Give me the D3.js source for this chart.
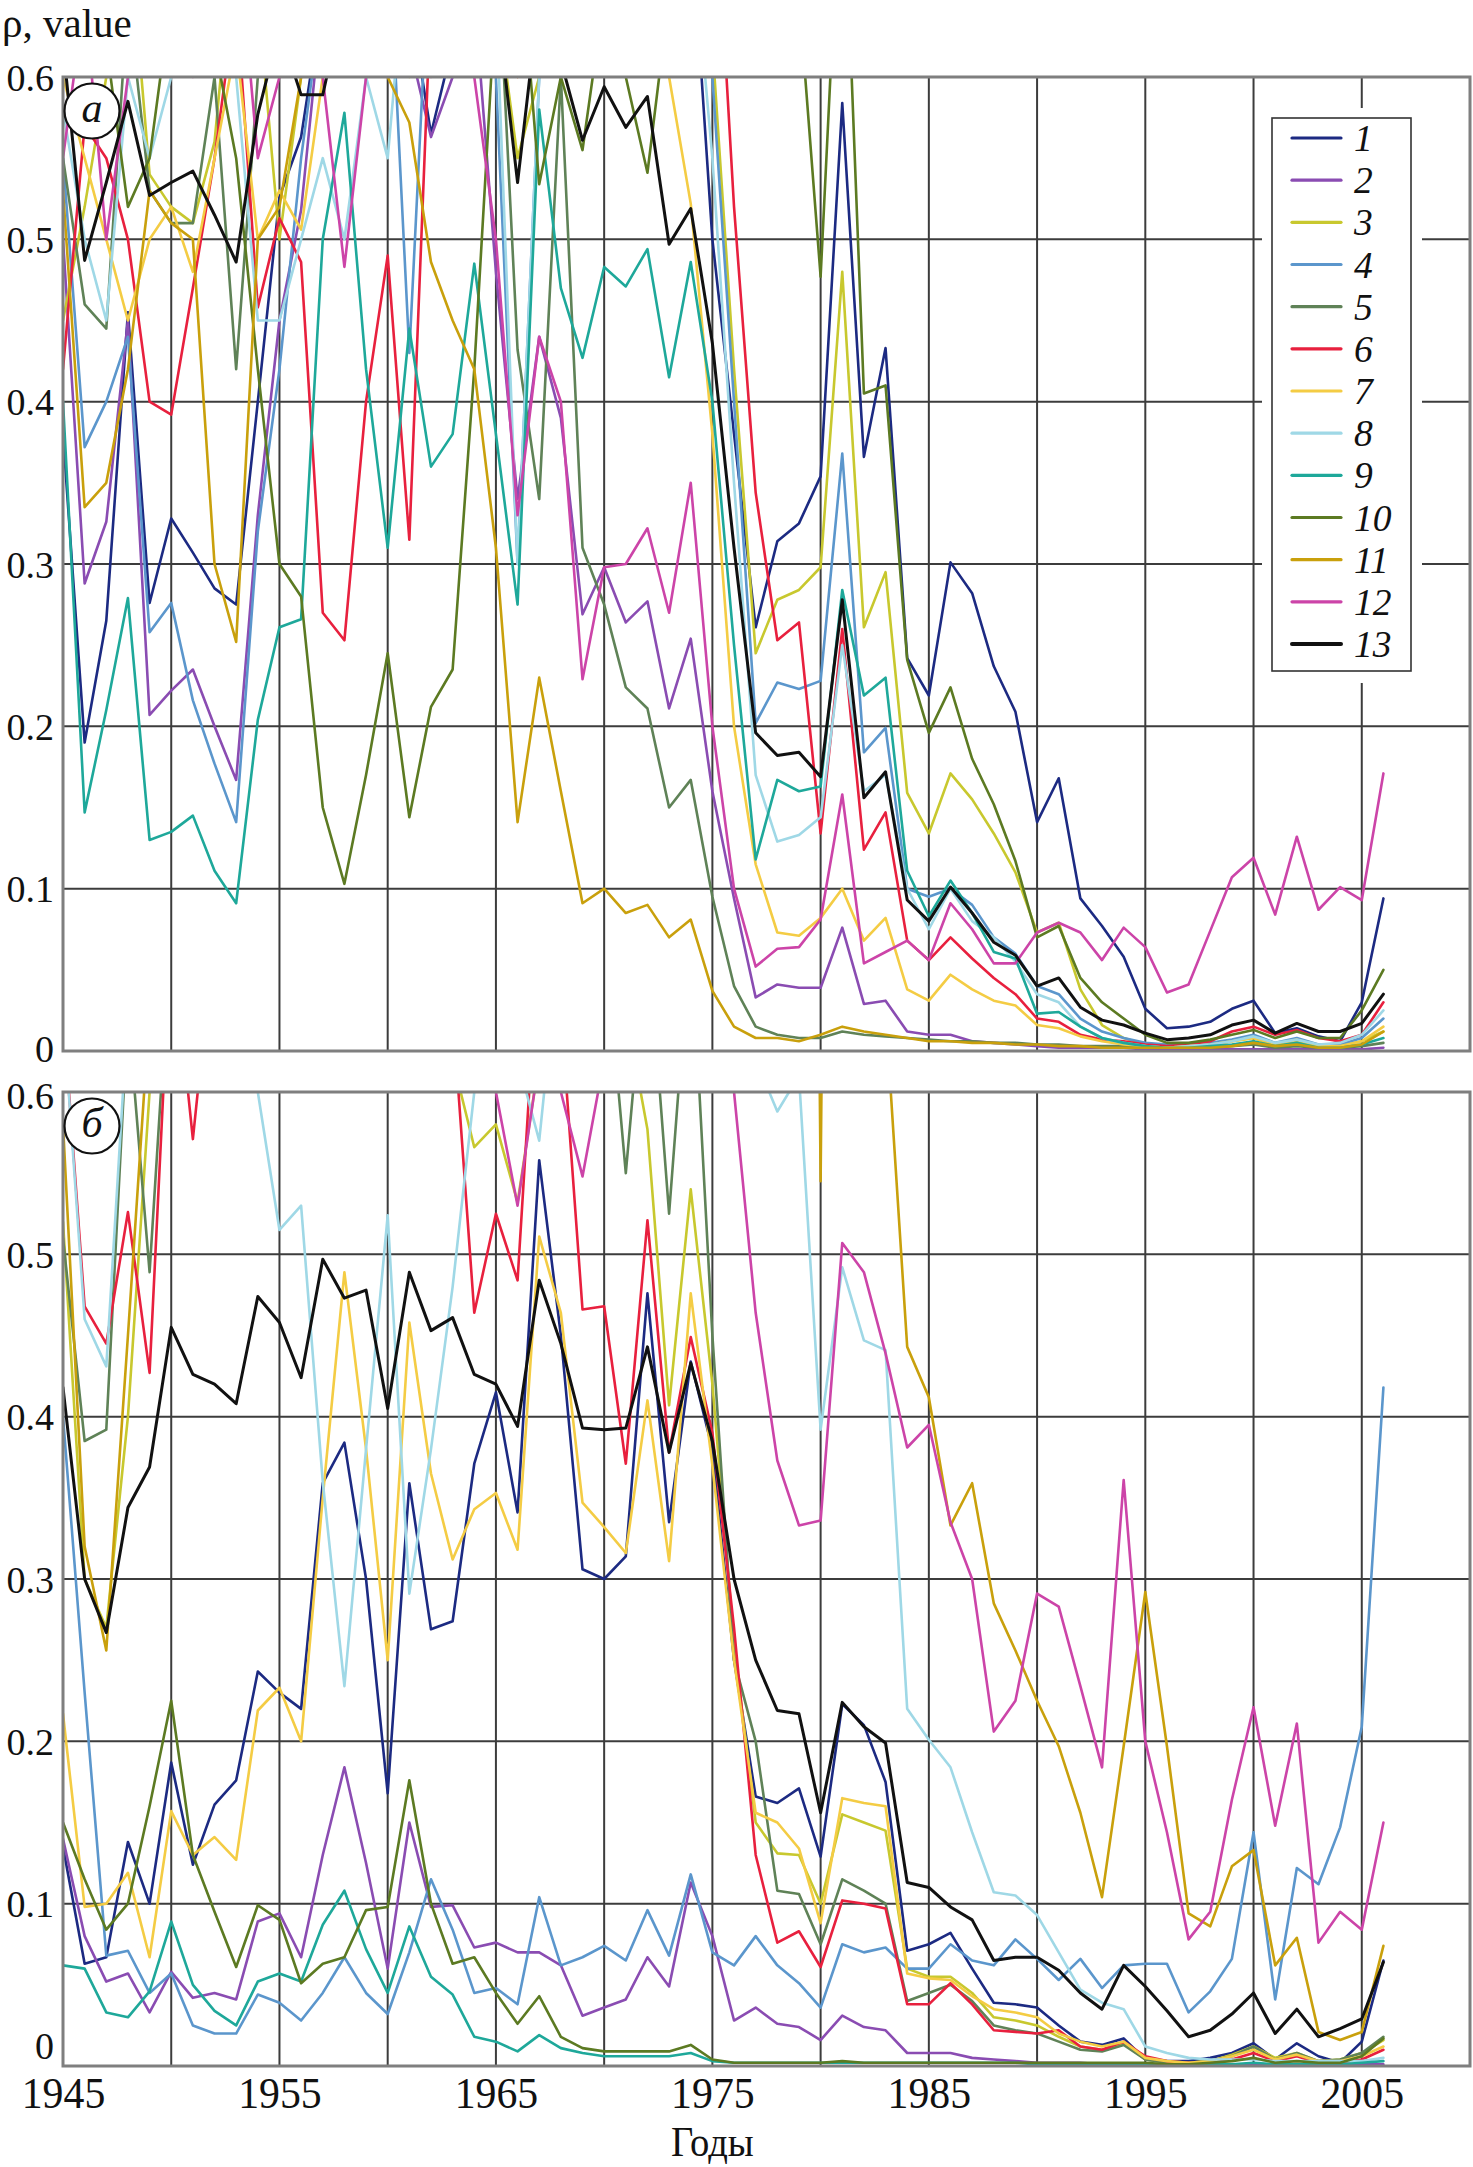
<!DOCTYPE html>
<html><head><meta charset="utf-8">
<script src="https://cdn.jsdelivr.net/npm/d3@7"></script>
<style>body{margin:0;background:#fff}</style>
</head><body>
<svg id="c" width="1473" height="2167"></svg>
<script>
const years = d3.range(1945, 2007);
const seriesNames = ["1","2","3","4","5","6","7","8","9","10","11","12","13"];
const seriesColors = ["#1c2a82","#8a4cb2","#c8c82e","#5b96cc","#5f8257","#e8203e","#f4cc44","#9fd8e6","#1ea89a","#5c7a22","#c9a00c","#cc44a8","#111111"];
const yTicks = [0,0.1,0.2,0.3,0.4,0.5,0.6];
const xTickLabels = [1945,1955,1965,1975,1985,1995,2005];

// Panel a
const a1=[0.38,0.19,0.265,0.455,0.276,0.328,0.307,0.285,0.275,0.40,0.526,0.563,0.65,0.72,0.75,0.7,0.65,0.565,0.62,0.7,0.7,0.62,0.75,0.7,0.72,0.7,0.75,0.7,0.72,0.7,0.5,0.38,0.261,0.314,0.325,0.354,0.584,0.366,0.433,0.242,0.219,0.301,0.282,0.237,0.209,0.141,0.168,0.094,0.077,0.058,0.026,0.014,0.015,0.018,0.026,0.031,0.011,0.014,0.009,0.006,0.03,0.094];
const a2=[0.5,0.288,0.326,0.45,0.207,0.222,0.235,0.2,0.167,0.33,0.45,0.518,0.65,0.7,0.68,0.65,0.62,0.563,0.6,0.65,0.48,0.34,0.44,0.39,0.269,0.298,0.264,0.277,0.211,0.254,0.16,0.094,0.033,0.041,0.039,0.039,0.076,0.029,0.031,0.012,0.01,0.01,0.006,0.005,0.004,0.003,0.002,0.002,0.002,0.002,0.001,0.001,0.001,0.001,0.001,0.001,0.001,0.001,0.001,0.001,0.001,0.002];
const a3=[0.45,0.52,0.6,0.7,0.54,0.52,0.51,0.56,0.7,0.65,0.5,0.6,0.7,0.7,0.65,0.7,0.6,0.7,0.72,0.7,0.65,0.55,0.6,0.7,0.65,0.7,0.6,0.7,0.65,0.7,0.62,0.42,0.245,0.278,0.284,0.298,0.48,0.261,0.295,0.159,0.134,0.171,0.155,0.134,0.110,0.073,0.079,0.038,0.016,0.008,0.004,0.003,0.003,0.004,0.006,0.008,0.004,0.006,0.003,0.003,0.006,0.012];
const a4=[0.55,0.372,0.40,0.44,0.258,0.276,0.216,0.177,0.141,0.32,0.42,0.55,0.65,0.7,0.6,0.7,0.43,0.7,0.65,0.7,0.6,0.3,0.6,0.65,0.7,0.7,0.65,0.7,0.7,0.7,0.6,0.4,0.202,0.227,0.223,0.228,0.368,0.184,0.199,0.1,0.095,0.1,0.09,0.07,0.06,0.04,0.035,0.02,0.012,0.008,0.005,0.004,0.004,0.005,0.007,0.01,0.005,0.008,0.004,0.004,0.008,0.02];
const a5=[0.55,0.46,0.445,0.65,0.53,0.51,0.51,0.6,0.42,0.6,0.65,0.7,0.65,0.7,0.6,0.7,0.7,0.65,0.7,0.6,0.7,0.432,0.34,0.6,0.31,0.275,0.224,0.211,0.15,0.167,0.095,0.04,0.015,0.01,0.008,0.008,0.012,0.01,0.009,0.008,0.007,0.006,0.006,0.005,0.005,0.004,0.004,0.003,0.003,0.003,0.002,0.002,0.002,0.002,0.003,0.004,0.002,0.003,0.002,0.002,0.003,0.005];
const a6=[0.42,0.57,0.55,0.5,0.4,0.392,0.47,0.55,0.65,0.458,0.513,0.486,0.27,0.253,0.4,0.49,0.315,0.65,0.7,0.7,0.7,0.6,0.7,0.7,0.65,0.7,0.7,0.7,0.7,0.75,0.75,0.52,0.344,0.253,0.264,0.134,0.26,0.124,0.147,0.068,0.056,0.07,0.057,0.045,0.035,0.02,0.018,0.01,0.007,0.006,0.004,0.003,0.004,0.006,0.012,0.015,0.01,0.013,0.008,0.006,0.01,0.03];
const a7=[0.6,0.55,0.5,0.45,0.5,0.52,0.48,0.55,0.62,0.5,0.53,0.506,0.6,0.65,0.7,0.6,0.65,0.7,0.65,0.7,0.7,0.6,0.65,0.7,0.7,0.65,0.7,0.62,0.6,0.522,0.38,0.2,0.115,0.073,0.071,0.082,0.1,0.068,0.082,0.038,0.031,0.047,0.038,0.031,0.028,0.016,0.014,0.009,0.006,0.004,0.003,0.002,0.003,0.004,0.006,0.008,0.004,0.007,0.003,0.003,0.006,0.015];
const a8=[0.58,0.5,0.45,0.6,0.55,0.6,0.65,0.7,0.6,0.45,0.45,0.5,0.55,0.5,0.6,0.55,0.7,0.65,0.7,0.7,0.65,0.3,0.6,0.7,0.65,0.7,0.7,0.65,0.7,0.7,0.55,0.35,0.17,0.129,0.133,0.144,0.25,0.16,0.17,0.1,0.075,0.1,0.08,0.07,0.055,0.035,0.03,0.015,0.008,0.005,0.003,0.002,0.003,0.004,0.006,0.009,0.005,0.007,0.004,0.005,0.01,0.025];
const a9=[0.40,0.147,0.21,0.279,0.13,0.135,0.145,0.111,0.091,0.204,0.261,0.266,0.5,0.578,0.42,0.31,0.445,0.36,0.38,0.485,0.38,0.275,0.58,0.47,0.427,0.483,0.471,0.494,0.415,0.486,0.4,0.25,0.118,0.167,0.16,0.163,0.284,0.219,0.23,0.111,0.083,0.105,0.085,0.061,0.057,0.023,0.024,0.015,0.008,0.005,0.003,0.002,0.002,0.003,0.004,0.006,0.003,0.005,0.002,0.002,0.004,0.008];
const a10=[0.6,0.7,0.62,0.52,0.55,0.65,0.7,0.62,0.55,0.42,0.3,0.28,0.15,0.103,0.17,0.245,0.144,0.212,0.235,0.42,0.65,0.7,0.534,0.6,0.555,0.65,0.6,0.541,0.65,0.7,0.72,0.75,0.75,0.7,0.65,0.477,0.75,0.405,0.41,0.241,0.196,0.224,0.18,0.152,0.117,0.07,0.077,0.045,0.03,0.02,0.01,0.005,0.005,0.007,0.01,0.013,0.008,0.012,0.008,0.008,0.025,0.05];
const a11=[0.53,0.335,0.35,0.42,0.53,0.51,0.5,0.3,0.252,0.5,0.52,0.6,0.65,0.7,0.65,0.6,0.572,0.486,0.45,0.42,0.31,0.141,0.23,0.16,0.091,0.1,0.085,0.09,0.07,0.081,0.037,0.015,0.008,0.008,0.006,0.01,0.015,0.012,0.01,0.008,0.006,0.006,0.005,0.005,0.004,0.004,0.003,0.003,0.002,0.002,0.002,0.002,0.002,0.002,0.003,0.005,0.003,0.004,0.002,0.002,0.004,0.012];
const a12=[0.55,0.65,0.5,0.6,0.65,0.7,0.6,0.65,0.7,0.55,0.6,0.7,0.6,0.483,0.6,0.7,0.65,0.6,0.65,0.6,0.5,0.33,0.44,0.4,0.229,0.298,0.3,0.322,0.27,0.35,0.2,0.1,0.052,0.063,0.064,0.081,0.158,0.054,0.061,0.068,0.056,0.091,0.075,0.054,0.054,0.073,0.079,0.073,0.056,0.076,0.064,0.036,0.041,0.074,0.107,0.119,0.084,0.132,0.087,0.101,0.093,0.171];
const a13=[0.62,0.487,0.535,0.585,0.527,0.535,0.542,0.515,0.486,0.577,0.63,0.589,0.589,0.65,0.7,0.7,0.68,0.7,0.7,0.68,0.65,0.535,0.65,0.61,0.561,0.594,0.569,0.588,0.497,0.519,0.436,0.31,0.196,0.182,0.184,0.169,0.278,0.156,0.172,0.093,0.080,0.101,0.085,0.067,0.059,0.040,0.045,0.027,0.019,0.016,0.011,0.007,0.008,0.010,0.016,0.019,0.011,0.017,0.012,0.012,0.017,0.035];

// Panel б
const b1=[0.135,0.063,0.067,0.138,0.1,0.187,0.124,0.161,0.176,0.243,0.23,0.22,0.359,0.384,0.3,0.168,0.359,0.269,0.274,0.371,0.415,0.341,0.558,0.45,0.306,0.3,0.314,0.476,0.335,0.434,0.38,0.25,0.166,0.162,0.171,0.129,0.223,0.21,0.175,0.071,0.075,0.082,0.06,0.039,0.038,0.036,0.025,0.015,0.013,0.017,0.004,0.003,0.003,0.005,0.008,0.014,0.004,0.014,0.006,0.002,0.015,0.065];
const b2=[0.14,0.08,0.052,0.057,0.033,0.058,0.042,0.045,0.041,0.089,0.094,0.067,0.13,0.184,0.125,0.06,0.15,0.098,0.099,0.073,0.076,0.07,0.07,0.062,0.031,0.036,0.041,0.067,0.049,0.113,0.08,0.028,0.036,0.026,0.024,0.016,0.031,0.024,0.022,0.008,0.008,0.008,0.005,0.004,0.003,0.002,0.002,0.002,0.001,0.001,0.001,0.001,0.001,0.001,0.001,0.001,0.001,0.001,0.001,0.001,0.001,0.001];
const b3=[0.52,0.3,0.27,0.4,0.6,0.7,0.7,0.7,0.7,0.7,0.7,0.7,0.7,0.7,0.7,0.7,0.7,0.65,0.62,0.566,0.58,0.532,0.62,0.7,0.65,0.6,0.65,0.577,0.407,0.54,0.42,0.26,0.15,0.131,0.13,0.1,0.155,0.15,0.145,0.06,0.055,0.055,0.045,0.03,0.028,0.025,0.018,0.012,0.01,0.014,0.004,0.002,0.002,0.003,0.007,0.012,0.005,0.008,0.003,0.004,0.008,0.016];
const b4=[0.4,0.23,0.068,0.071,0.045,0.057,0.025,0.02,0.02,0.044,0.039,0.028,0.045,0.067,0.045,0.032,0.07,0.115,0.084,0.045,0.048,0.038,0.104,0.062,0.067,0.074,0.065,0.096,0.068,0.118,0.07,0.062,0.08,0.062,0.051,0.036,0.075,0.07,0.073,0.06,0.06,0.075,0.065,0.062,0.078,0.066,0.053,0.066,0.048,0.062,0.063,0.063,0.033,0.046,0.066,0.144,0.041,0.122,0.112,0.147,0.209,0.418];
const b5=[0.51,0.385,0.392,0.65,0.489,0.7,0.7,0.7,0.7,0.7,0.7,0.7,0.7,0.7,0.7,0.7,0.7,0.7,0.7,0.7,0.7,0.65,0.7,0.7,0.65,0.7,0.55,0.7,0.525,0.7,0.45,0.25,0.2,0.108,0.106,0.075,0.115,0.108,0.1,0.04,0.045,0.05,0.04,0.025,0.022,0.02,0.015,0.01,0.009,0.013,0.004,0.002,0.002,0.003,0.006,0.012,0.004,0.008,0.003,0.004,0.008,0.018];
const b6=[0.65,0.468,0.445,0.526,0.427,0.7,0.571,0.7,0.7,0.72,0.7,0.7,0.7,0.7,0.7,0.7,0.7,0.7,0.65,0.464,0.525,0.484,0.7,0.65,0.466,0.468,0.371,0.521,0.378,0.449,0.39,0.27,0.13,0.076,0.083,0.061,0.102,0.1,0.097,0.038,0.038,0.051,0.038,0.022,0.021,0.02,0.022,0.012,0.01,0.015,0.006,0.003,0.002,0.002,0.004,0.008,0.003,0.006,0.002,0.002,0.004,0.01];
const b7=[0.217,0.098,0.1,0.119,0.067,0.157,0.13,0.141,0.127,0.219,0.233,0.2,0.35,0.489,0.38,0.25,0.458,0.365,0.312,0.343,0.353,0.318,0.511,0.464,0.347,0.332,0.316,0.41,0.311,0.476,0.37,0.25,0.156,0.15,0.134,0.088,0.165,0.162,0.16,0.057,0.054,0.053,0.043,0.035,0.033,0.03,0.02,0.015,0.012,0.015,0.005,0.003,0.002,0.003,0.006,0.01,0.004,0.007,0.003,0.003,0.006,0.012];
const b8=[0.65,0.46,0.431,0.65,0.7,0.7,0.7,0.7,0.7,0.6,0.515,0.53,0.36,0.234,0.38,0.524,0.291,0.38,0.48,0.6,0.7,0.62,0.57,0.7,0.7,0.7,0.7,0.7,0.7,0.7,0.7,0.65,0.62,0.588,0.61,0.392,0.492,0.447,0.441,0.22,0.201,0.184,0.144,0.107,0.105,0.093,0.07,0.047,0.039,0.035,0.012,0.008,0.005,0.004,0.004,0.004,0.003,0.003,0.003,0.003,0.003,0.005];
const b9=[0.062,0.06,0.033,0.03,0.046,0.089,0.05,0.034,0.025,0.052,0.057,0.052,0.087,0.108,0.072,0.045,0.086,0.055,0.044,0.018,0.015,0.009,0.019,0.011,0.008,0.006,0.006,0.006,0.006,0.008,0.003,0.002,0.002,0.002,0.002,0.002,0.002,0.002,0.002,0.002,0.002,0.002,0.002,0.002,0.002,0.001,0.001,0.001,0.001,0.001,0.001,0.001,0.001,0.001,0.001,0.002,0.001,0.001,0.001,0.001,0.002,0.003];
const b10=[0.15,0.115,0.084,0.1,0.16,0.225,0.13,0.095,0.061,0.099,0.09,0.051,0.063,0.067,0.096,0.098,0.176,0.1,0.063,0.067,0.045,0.026,0.043,0.018,0.011,0.009,0.009,0.009,0.009,0.013,0.004,0.002,0.002,0.002,0.002,0.002,0.003,0.002,0.002,0.002,0.002,0.002,0.002,0.002,0.002,0.002,0.002,0.002,0.002,0.002,0.002,0.001,0.001,0.002,0.003,0.005,0.002,0.003,0.002,0.002,0.006,0.017];
const b11=[0.58,0.32,0.256,0.45,0.65,0.7,0.7,0.7,0.7,0.7,0.7,0.7,0.7,0.7,0.7,0.7,0.7,0.7,0.7,0.7,0.7,0.7,0.7,0.7,0.7,0.7,0.7,0.7,0.7,0.7,0.7,0.7,0.7,0.7,2.0,0.545,2.0,0.7,0.65,0.443,0.412,0.333,0.359,0.285,0.256,0.225,0.197,0.156,0.104,0.197,0.292,0.197,0.094,0.086,0.123,0.133,0.062,0.079,0.021,0.016,0.021,0.074];
const b12=[0.7,0.65,0.7,0.7,0.65,0.7,0.7,0.72,0.7,0.7,0.7,0.72,0.7,0.7,0.7,0.7,0.65,0.7,0.7,0.62,0.6,0.53,0.62,0.6,0.548,0.62,0.65,0.7,0.7,0.7,0.7,0.6,0.464,0.373,0.333,0.336,0.507,0.489,0.439,0.381,0.395,0.335,0.3,0.206,0.225,0.291,0.283,0.234,0.184,0.361,0.2,0.144,0.078,0.095,0.164,0.221,0.148,0.211,0.076,0.095,0.084,0.15];
const b13=[0.418,0.3,0.267,0.344,0.369,0.455,0.426,0.42,0.408,0.474,0.458,0.424,0.497,0.473,0.478,0.405,0.489,0.453,0.461,0.426,0.42,0.394,0.484,0.445,0.393,0.392,0.393,0.443,0.378,0.433,0.385,0.3,0.25,0.219,0.217,0.156,0.224,0.209,0.199,0.113,0.11,0.098,0.09,0.065,0.067,0.067,0.059,0.045,0.035,0.062,0.049,0.034,0.018,0.022,0.032,0.045,0.02,0.035,0.018,0.023,0.029,0.064];

const panelA=[a1,a2,a3,a4,a5,a6,a7,a8,a9,a10,a11,a12,a13];
const panelB=[b1,b2,b3,b4,b5,b6,b7,b8,b9,b10,b11,b12,b13];

const svg=d3.select("#c");
svg.append("rect").attr("width",1473).attr("height",2167).attr("fill","#fff");
const serif="'Liberation Serif','Times New Roman',serif";
const x=d3.scaleLinear().domain([1945,2010]).range([63,1470]);

const panels=[
  {id:"a",label:"a",y:d3.scaleLinear().domain([0,0.6]).range([1051,77]),data:panelA,
   off:d=>d===0?10:13},
  {id:"b",label:"б",y:d3.scaleLinear().domain([0,0.6]).range([2066,1092]),data:panelB,
   off:d=>d===0.6?16:(d===0?-8:13)}
];

panels.forEach(p=>{
  const g=svg.append("g");
  const y=p.y;
  g.append("g").selectAll("line").data(d3.range(1950,2010,5)).join("line")
    .attr("x1",d=>x(d)).attr("x2",d=>x(d)).attr("y1",y(0)).attr("y2",y(0.6))
    .attr("stroke","#3c3c3c").attr("stroke-width",2);
  g.append("g").selectAll("line").data([0.1,0.2,0.3,0.4,0.5]).join("line")
    .attr("x1",x(1945)).attr("x2",x(2010)).attr("y1",d=>y(d)).attr("y2",d=>y(d))
    .attr("stroke","#3c3c3c").attr("stroke-width",2);
  svg.append("clipPath").attr("id","clip"+p.id).append("rect")
    .attr("x",x(1945)).attr("y",y(0.6)).attr("width",x(2010)-x(1945)).attr("height",y(0)-y(0.6));
  const line=d3.line().x((d,i)=>x(years[i])).y(d=>y(d));
  g.append("g").attr("clip-path",`url(#clip${p.id})`).selectAll("path").data(p.data).join("path")
    .attr("d",line).attr("fill","none")
    .attr("stroke",(d,i)=>seriesColors[i])
    .attr("stroke-width",(d,i)=>i===12?3:2.6)
    .attr("stroke-linejoin","round").attr("stroke-linecap","round");
  g.append("rect").attr("x",x(1945)).attr("y",y(0.6)).attr("width",x(2010)-x(1945)).attr("height",y(0)-y(0.6))
    .attr("fill","none").attr("stroke","#7f7f7f").attr("stroke-width",3);
  const ax=g.append("g").attr("transform",`translate(${x(1945)},0)`)
    .call(d3.axisLeft(y).tickValues(yTicks).tickSize(0).tickPadding(9)
      .tickFormat(d=>d===0?"0":d3.format(".1f")(d)));
  ax.select(".domain").remove();
  ax.selectAll("text").attr("font-family",serif).attr("font-size",38).attr("fill","#111")
    .attr("dy",null).attr("y",d=>p.off(d));
  const cy=y(0.6)+34;
  g.append("circle").attr("cx",92).attr("cy",cy).attr("r",27.5).attr("fill","#fff").attr("stroke","#111").attr("stroke-width",2.2);
  g.append("text").attr("x",92).attr("y",cy+11).attr("text-anchor","middle")
    .attr("font-family",serif).attr("font-style","italic").attr("font-size",42).attr("fill","#111").text(p.label);
});

const xa=svg.append("g").attr("transform",`translate(0,${panels[1].y(0)})`)
  .call(d3.axisBottom(x).tickValues(xTickLabels).tickSize(0).tickFormat(d3.format("d")));
xa.select(".domain").remove();
xa.selectAll("text").attr("font-family",serif).attr("font-size",44).attr("fill","#111")
  .attr("dy",null).attr("y",42).attr("transform","scale(0.95,1)");

svg.append("text").attr("transform",`translate(${x(1975)},2156) scale(0.92,1)`).attr("text-anchor","middle")
  .attr("font-family",serif).attr("font-size",42).attr("fill","#111").text("Годы");
svg.append("text").attr("x",2).attr("y",37).attr("font-family",serif).attr("font-size",41).attr("fill","#111").text("ρ, value");

const lg=svg.append("g");
lg.append("rect").attr("x",1262).attr("y",108).attr("width",160).attr("height",575).attr("fill","#fff");
lg.append("rect").attr("x",1272).attr("y",118).attr("width",139).attr("height",553).attr("fill","#fff").attr("stroke","#333").attr("stroke-width",1.6);
const rowY=d3.scaleLinear().domain([0,12]).range([138,644]);
const items=lg.selectAll("g.it").data(seriesNames).join("g").attr("transform",(d,i)=>`translate(0,${rowY(i)})`);
items.append("line").attr("x1",1292).attr("x2",1341).attr("stroke",(d,i)=>seriesColors[i]).attr("stroke-width",(d,i)=>i===12?4:3.2).attr("stroke-linecap","round");
items.append("text").attr("x",1354).attr("y",13).attr("font-family",serif).attr("font-style","italic").attr("font-size",37.5).attr("fill","#111").text(d=>d);
</script>
</body></html>
